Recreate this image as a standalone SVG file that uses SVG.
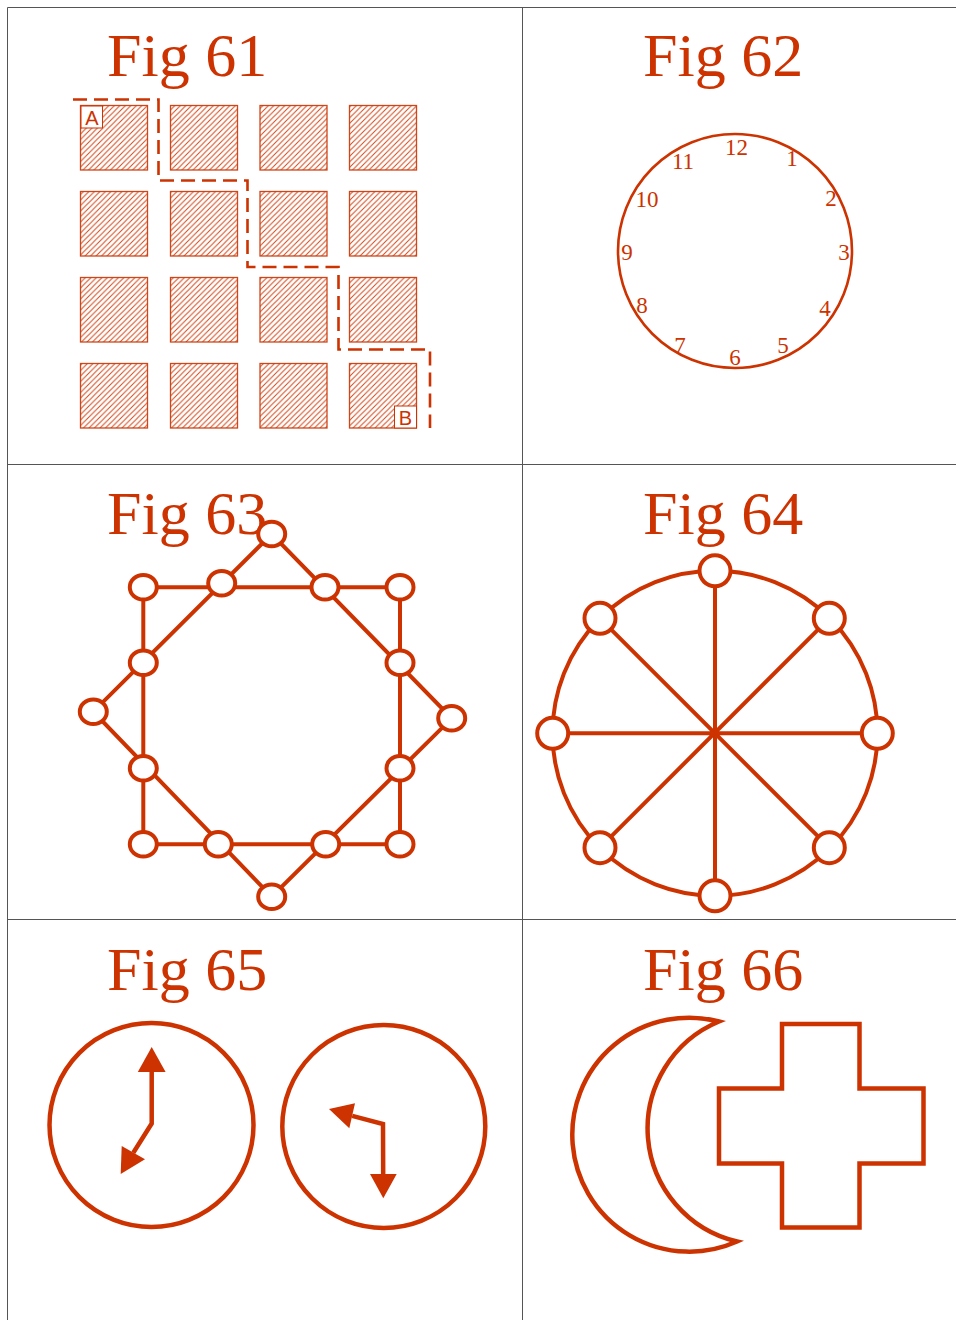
<svg xmlns="http://www.w3.org/2000/svg" width="956" height="1320" viewBox="0 0 956 1320">
<style>
.title{font-family:"Liberation Serif","Times New Roman",serif;font-size:62px;fill:#CC3300}
.num{font-family:"Liberation Serif","Times New Roman",serif;font-size:23px;fill:#CC3300;text-anchor:middle}
.lab{font-family:"Liberation Sans",Arial,sans-serif;font-size:20px;fill:#CC3300;text-anchor:middle}
.sq{fill:url(#hatch);stroke:#CC3300;stroke-width:1.3;stroke-opacity:0.9}
.thick{fill:none;stroke:#CC3300;stroke-width:4}
.node{fill:#fff;stroke:#CC3300;stroke-width:4}
.head{fill:#CC3300;stroke:none}
.grid{stroke:#555;stroke-width:1;fill:none}
</style>
<defs>
<pattern id="hatch" patternUnits="userSpaceOnUse" width="5.5" height="5.5">
<path d="M-1,1 l2,-2 M0,5.5 l5.5,-5.5 M4.5,6.5 l2,-2" stroke="#CC3300" stroke-width="1" stroke-opacity="0.9"/>
</pattern>
</defs>
<rect width="956" height="1320" fill="#fff"/>
<g id="table">
<path class="grid" d="M7.5,1320 V7.5 H956" stroke="#666" stroke-width="1.5"/>
<path class="grid" d="M522.5,8 V1320" stroke="#222"/>
<path class="grid" d="M8,464.5 H956 M8,919.5 H956" stroke="#777"/>
</g>
<g id="fig61">
<text class="title" x="107" y="76">Fig 61</text>
<g id="squares">
<rect class="sq" x="80.5" y="105.5" width="67" height="64.5"/>
<rect class="sq" x="170.5" y="105.5" width="67" height="64.5"/>
<rect class="sq" x="260" y="105.5" width="67" height="64.5"/>
<rect class="sq" x="349.5" y="105.5" width="67" height="64.5"/>
<rect class="sq" x="80.5" y="191.5" width="67" height="64.5"/>
<rect class="sq" x="170.5" y="191.5" width="67" height="64.5"/>
<rect class="sq" x="260" y="191.5" width="67" height="64.5"/>
<rect class="sq" x="349.5" y="191.5" width="67" height="64.5"/>
<rect class="sq" x="80.5" y="277.5" width="67" height="64.5"/>
<rect class="sq" x="170.5" y="277.5" width="67" height="64.5"/>
<rect class="sq" x="260" y="277.5" width="67" height="64.5"/>
<rect class="sq" x="349.5" y="277.5" width="67" height="64.5"/>
<rect class="sq" x="80.5" y="363.5" width="67" height="64.5"/>
<rect class="sq" x="170.5" y="363.5" width="67" height="64.5"/>
<rect class="sq" x="260" y="363.5" width="67" height="64.5"/>
<rect class="sq" x="349.5" y="363.5" width="67" height="64.5"/>
</g>
<g id="labelA"><rect x="81" y="106" width="21.5" height="22" fill="#fff" stroke="#CC3300" stroke-width="1"/><text class="lab" x="91.8" y="125">A</text></g>
<g id="labelB"><rect x="394.5" y="406" width="22" height="22" fill="#fff" stroke="#CC3300" stroke-width="1"/><text class="lab" x="405.5" y="425">B</text></g>
<path d="M73,99.5 H158.5 V180.5 H247.5 V267 H338.5 V349.5 H430 V428" fill="none" stroke="#CC3300" stroke-width="2.6" stroke-dasharray="14 7"/>
</g>
<g id="fig62">
<text class="title" x="643" y="76">Fig 62</text>
<circle cx="735" cy="251" r="117" fill="none" stroke="#CC3300" stroke-width="2.6"/>
<text class="num" x="736.5" y="155">12</text>
<text class="num" x="792" y="166">1</text>
<text class="num" x="831" y="206">2</text>
<text class="num" x="844" y="260">3</text>
<text class="num" x="825" y="316">4</text>
<text class="num" x="783" y="353">5</text>
<text class="num" x="735" y="365">6</text>
<text class="num" x="680" y="353">7</text>
<text class="num" x="642" y="313">8</text>
<text class="num" x="627" y="260">9</text>
<text class="num" x="647" y="207">10</text>
<text class="num" x="683" y="169">11</text>
</g>
<g id="fig63">
<text class="title" x="107" y="534">Fig 63</text>
<g id="fig63-edges">
<path class="thick" d="M143.3,587.3 H400 V844.3 H143.3 Z"/>
<path class="thick" d="M271.7,534 L93.3,711.7 L271.7,896.7 L451.7,718.3 Z"/>
</g>
<g id="fig63-nodes">
<ellipse class="node" cx="271.7" cy="534" rx="13.5" ry="12.3"/>
<ellipse class="node" cx="221.7" cy="583.3" rx="13.5" ry="12.3"/>
<ellipse class="node" cx="325" cy="587.3" rx="13.5" ry="12.3"/>
<ellipse class="node" cx="143.3" cy="587.3" rx="13.5" ry="12.3"/>
<ellipse class="node" cx="400" cy="587.3" rx="13.5" ry="12.3"/>
<ellipse class="node" cx="143.3" cy="662.7" rx="13.5" ry="12.3"/>
<ellipse class="node" cx="400" cy="662.7" rx="13.5" ry="12.3"/>
<ellipse class="node" cx="93.3" cy="711.7" rx="13.5" ry="12.3"/>
<ellipse class="node" cx="451.7" cy="718.3" rx="13.5" ry="12.3"/>
<ellipse class="node" cx="143.3" cy="768.3" rx="13.5" ry="12.3"/>
<ellipse class="node" cx="400" cy="768.3" rx="13.5" ry="12.3"/>
<ellipse class="node" cx="143.3" cy="844.3" rx="13.5" ry="12.3"/>
<ellipse class="node" cx="218.3" cy="844.3" rx="13.5" ry="12.3"/>
<ellipse class="node" cx="325.7" cy="844.3" rx="13.5" ry="12.3"/>
<ellipse class="node" cx="400" cy="844.3" rx="13.5" ry="12.3"/>
<ellipse class="node" cx="271.7" cy="896.7" rx="13.5" ry="12.3"/>
</g>
</g>
<g id="fig64">
<text class="title" x="643" y="534">Fig 64</text>
<g id="fig64-edges">
<circle class="thick" cx="715" cy="733.3" r="162.5"/>
<path class="thick" d="M715,570.8 V895.8 M552.5,733.3 H877.5 M600,618.3 L829.3,847.7 M829.3,618.3 L600,847.7"/>
</g>
<g id="fig64-nodes">
<circle class="node" cx="715" cy="570.8" r="15.5"/>
<circle class="node" cx="715" cy="895.8" r="15.5"/>
<circle class="node" cx="552.7" cy="733.3" r="15.5"/>
<circle class="node" cx="877.3" cy="733.3" r="15.5"/>
<circle class="node" cx="600" cy="618.3" r="15.5"/>
<circle class="node" cx="829.3" cy="618.3" r="15.5"/>
<circle class="node" cx="600" cy="847.7" r="15.5"/>
<circle class="node" cx="829.3" cy="847.7" r="15.5"/>
</g>
</g>
<g id="fig65">
<text class="title" x="107" y="990">Fig 65</text>
<g id="clock-left">
<circle cx="151.5" cy="1125" r="102" fill="none" stroke="#CC3300" stroke-width="4.5"/>
<polyline points="151.7,1070 151.7,1123.5 133.3,1152.7" fill="none" stroke="#CC3300" stroke-width="4.5" stroke-linejoin="miter"/>
<polygon class="head" points="151.7,1047 137.8,1072 165.6,1072"/>
<polygon class="head" points="120.7,1174 121.7,1146 145,1159.3"/>
</g>
<g id="clock-right">
<circle cx="383.8" cy="1126.5" r="101.5" fill="none" stroke="#CC3300" stroke-width="4.5"/>
<polyline points="352.2,1115.8 383,1124 383.2,1175" fill="none" stroke="#CC3300" stroke-width="4.5" stroke-linejoin="miter"/>
<polygon class="head" points="383.3,1198.3 370,1174 396.7,1174"/>
<polygon class="head" points="329,1109 355,1103.3 349.3,1128.3"/>
</g>
</g>
<g id="fig66">
<text class="title" x="643" y="990">Fig 66</text>
<path id="crescent" d="M719,1021.5 A117,117 0 1,0 737,1241.5 A116,116 0 0,1 719,1021.5 Z" fill="none" stroke="#CC3300" stroke-width="4.5" stroke-linejoin="miter" stroke-miterlimit="20"/>
<path id="cross" d="M782,1024 H859.5 V1088.5 H923.5 V1163.5 H859.5 V1227.5 H782 V1163.5 H719 V1088.5 H782 Z" fill="none" stroke="#CC3300" stroke-width="4.5"/>
</g>
</svg>
